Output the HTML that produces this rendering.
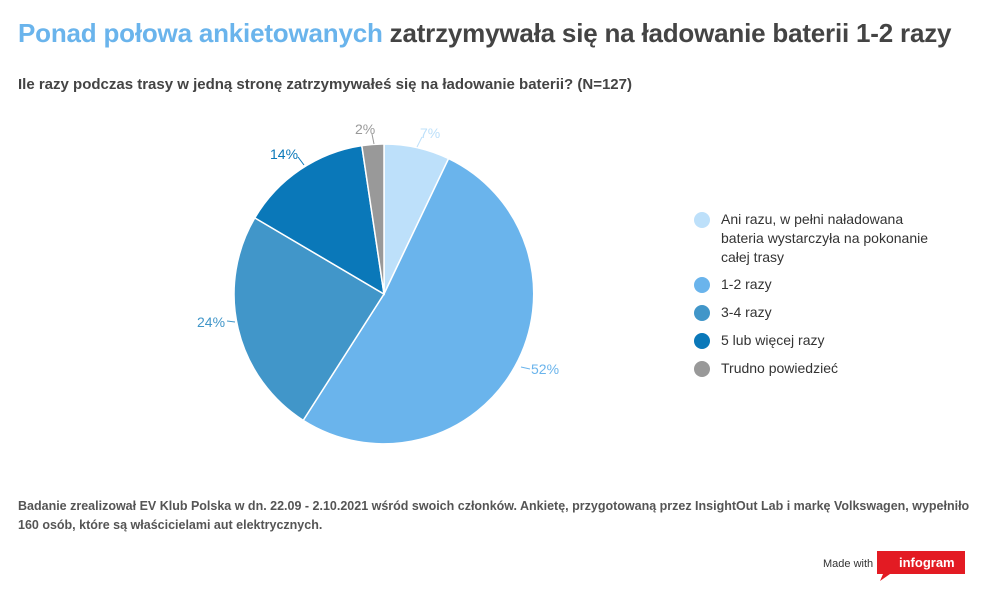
<!DOCTYPE html>
<html><head><meta charset="utf-8"><style>
body{margin:0;background:#fff;font-family:"Liberation Sans",sans-serif;color:#444;}
#w{position:relative;width:995px;height:593px;overflow:hidden}
.t{position:absolute;left:18px;top:18px;font-size:26px;font-weight:bold;letter-spacing:-0.2px;white-space:nowrap}
.s{position:absolute;left:18px;top:76px;font-size:15px;font-weight:bold;white-space:nowrap}
.f{position:absolute;left:18px;top:497px;font-size:12.5px;font-weight:bold;line-height:19px;width:960px;color:#555}
.lg{position:absolute;left:694px;font-size:14px;line-height:19px;color:#333}
.lg i{position:absolute;left:0;top:2px;width:16px;height:16px;border-radius:50%}
.lg span{display:block;margin-left:27px}
</style></head><body><div id="w">
<div class="t"><span style="color:#6ab4ec">Ponad połowa ankietowanych</span> zatrzymywała się na ładowanie baterii 1-2 razy</div>
<div class="s">Ile razy podczas trasy w jedną stronę zatrzymywałeś się na ładowanie baterii? (N=127)</div>
<svg width="995" height="593" style="position:absolute;left:0;top:0" font-family="Liberation Sans, sans-serif" font-size="14">
<g stroke="#fff" stroke-width="1.5">
<path d="M384,294 L384,144 A150,150 0 0 1 448.6,158.6Z" fill="#bde0fa"/>
<path d="M384,294 L448.6,158.6 A150,150 0 1 1 303.2,420.4Z" fill="#6ab4ec"/>
<path d="M384,294 L303.2,420.4 A150,150 0 0 1 254.8,217.9Z" fill="#4196c9"/>
<path d="M384,294 L254.8,217.9 A150,150 0 0 1 361.8,145.6Z" fill="#0a78b9"/>
<path d="M384,294 L361.8,145.6 A150,150 0 0 1 384,144Z" fill="#999"/>
</g>
<g fill="none" stroke-width="1">
<path d="M417,147 L422,137" stroke="#bde0fa"/>
<path d="M374,144 L372,134" stroke="#999"/>
<path d="M304,165 L298,157" stroke="#0a78b9"/>
<path d="M235,322 L227,321" stroke="#4196c9"/>
<path d="M521,367 L530,369" stroke="#6ab4ec"/>
</g>
<text x="420" y="138" fill="#bde0fa">7%</text>
<text x="355" y="134" fill="#999">2%</text>
<text x="270" y="159" fill="#0a78b9">14%</text>
<text x="197" y="327" fill="#4196c9">24%</text>
<text x="531" y="374" fill="#6ab4ec">52%</text>
<text x="823" y="567" font-size="11" fill="#333">Made with</text>
<path d="M877,551 H965 V574 H890 L880,581 L883,574 H877Z" fill="#e31b23"/>
<text x="899" y="567" font-size="13" fill="#fff" font-weight="bold">infogram</text>
</svg>
<div class="lg" style="top:210px"><i style="background:#bde0fa"></i><span>Ani razu, w pełni naładowana<br>bateria wystarczyła na pokonanie<br>całej trasy</span></div>
<div class="lg" style="top:275px"><i style="background:#6ab4ec"></i><span>1-2 razy</span></div>
<div class="lg" style="top:303px"><i style="background:#4196c9"></i><span>3-4 razy</span></div>
<div class="lg" style="top:331px"><i style="background:#0a78b9"></i><span>5 lub więcej razy</span></div>
<div class="lg" style="top:359px"><i style="background:#999"></i><span>Trudno powiedzieć</span></div>
<div class="f">Badanie zrealizował EV Klub Polska w dn. 22.09 - 2.10.2021 wśród swoich członków. Ankietę, przygotowaną przez InsightOut Lab i markę Volkswagen, wypełniło 160 osób, które są właścicielami aut elektrycznych.</div>
</div></body></html>
